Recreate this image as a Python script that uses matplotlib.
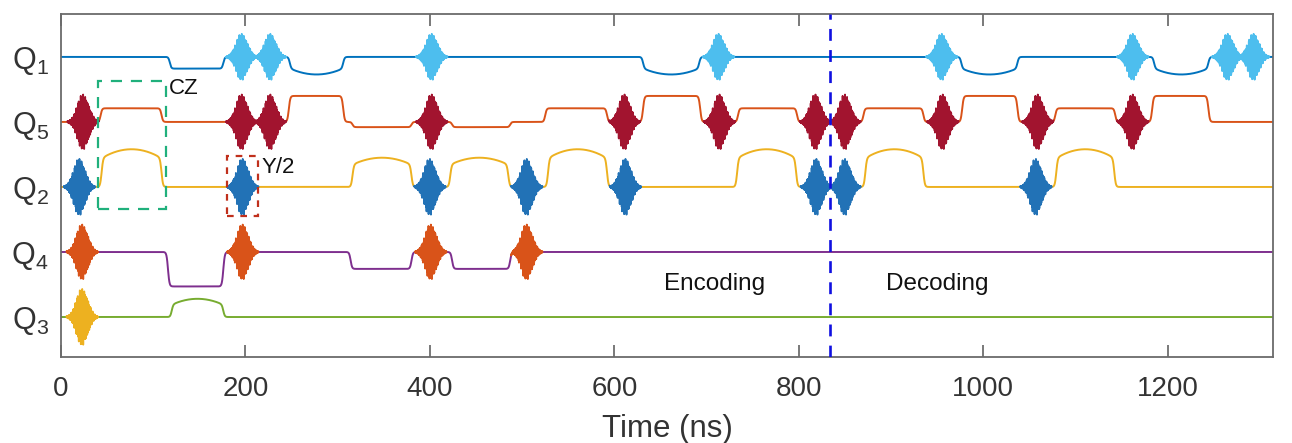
import numpy as np
import matplotlib
matplotlib.use("Agg")
import matplotlib.pyplot as plt
from matplotlib.patches import Rectangle

plt.rcParams['font.family'] = ['Liberation Sans', 'DejaVu Sans']
plt.rcParams['mathtext.fontset'] = 'custom'
plt.rcParams['mathtext.rm'] = 'Liberation Sans'
plt.rcParams['mathtext.default'] = 'regular'

# ---------------- data ----------------
qubit_labels = ['Q$_1$', 'Q$_5$', 'Q$_2$', 'Q$_4$', 'Q$_3$']
qubit_offsets = [5, 4, 3, 2, 1]
line_colors = ['#0072BD', '#D95319', '#EDB120', '#7E2F8E', '#77AC30']
pulse_colors = ['#4DBEEE', '#A2142F', '#2272B6', '#D95319', '#EDB120']
pulse_amps = [0.37, 0.44, 0.45, 0.44, 0.45]

# microwave pulse centres (ns)
q1_pulses = [196, 227, 402, 713, 955, 1162, 1265, 1293]
q5_pulses = [24, 196, 227, 402, 611, 714, 818, 850, 956, 1059, 1162]
q2_pulses = [20, 197, 400, 505, 612, 819, 850, 1057]
q4_pulses = [23, 197, 401, 505]
q3_pulses = [23]

# flux pulses: (start ns, end ns, amplitude, curvature)
q1_flux = [(118, 176, -0.18, 0.0), (248, 306, -0.27, 0.35), (631, 692, -0.27, 0.35),
           (976, 1037, -0.27, 0.35), (1185, 1244, -0.27, 0.35)]
q5_flux = [(43, 109, 0.21, 0.0), (247, 306, 0.40, 0.0), (316, 380, -0.08, 0.0),
           (424, 487, -0.08, 0.0), (525, 592, 0.21, 0.0), (631, 693, 0.40, 0.0),
           (734, 798, 0.21, 0.0), (870, 935, 0.21, 0.0), (977, 1037, 0.40, 0.0),
           (1078, 1143, 0.21, 0.0), (1183, 1244, 0.40, 0.0)]
q2_flux = [(44, 109, 0.58, 0.24), (316, 380, 0.45, 0.24), (422, 485, 0.45, 0.24),
           (528, 592, 0.58, 0.24), (733, 797, 0.58, 0.24), (872, 935, 0.58, 0.24),
           (1079, 1142, 0.58, 0.24)]
q4_flux = [(116, 176, -0.53, 0.0), (314, 380, -0.26, 0.0), (424, 487, -0.26, 0.0)]
q3_flux = [(120, 176, 0.28, 0.33)]

all_pulses = [q1_pulses, q5_pulses, q2_pulses, q4_pulses, q3_pulses]
all_flux = [q1_flux, q5_flux, q2_flux, q4_flux, q3_flux]

x_ticks = [0, 200, 400, 600, 800, 1000, 1200]
t_end = 1314
boundary_t = 834

# ---------------- waveform helpers ----------------
t = np.arange(0, t_end + 0.25, 0.25)


def flux_wave(tt, segs):
    y = np.zeros_like(tt)
    w = 1.6
    for s, e, a, c in segs:
        edge = 0.5 * (np.tanh((tt - s) / w) - np.tanh((tt - e) / w))
        u = np.clip((tt - 0.5 * (s + e)) / (0.5 * (e - s)), -1, 1)
        y += a * edge * (1 - c * u ** 2)
    return y


fig = plt.figure(figsize=(12.92, 4.43), dpi=100)
ax = fig.add_axes([61 / 1292, 86 / 443, (1273 - 61) / 1292, (357 - 14) / 443])

for off, lc, pc, amp, pulses, segs in zip(qubit_offsets, line_colors, pulse_colors,
                                          pulse_amps, all_pulses, all_flux):
    base = off + flux_wave(t, segs)
    ax.plot(t, base, color=lc, lw=1.4, solid_capstyle='butt', zorder=2)
    for tc in pulses:
        tp = np.arange(tc - 17, tc + 17, 0.1)
        env = amp * np.exp(-(tp - tc) ** 2 / (2 * 6.2 ** 2))
        carrier = (0.82 * np.cos(2 * np.pi * 2.3 * (tp - tc))
                   + 0.18 * np.cos(2 * np.pi * 0.43 * (tp - tc) + 0.7))
        yy = off + flux_wave(tp, segs) + env * carrier
        ax.plot(tp, yy, color=pc, lw=1.3, zorder=3)

# boundary between encoding and decoding
ax.axvline(boundary_t, color='#1010E0', lw=1.9, ls=(0, (4.5, 3.5)), zorder=4)

# gate annotation boxes
ax.add_patch(Rectangle((40, 2.66), 74, 1.97, fill=False, ec='#20B07C', lw=1.6,
                       ls=(0, (5, 4)), zorder=5))
ax.add_patch(Rectangle((180, 2.55), 34, 0.93, fill=False, ec='#C0301C', lw=1.6,
                       ls=(0, (3, 3)), zorder=5))
ax.text(117, 4.51, 'CZ', fontsize=16, ha='left', va='center', color='#111111')
ax.text(217, 3.30, 'Y/2', fontsize=16, ha='left', va='center', color='#111111')
ax.text(709, 1.51, 'Encoding', fontsize=17.5, ha='center', va='center', color='#111111')
ax.text(950, 1.51, 'Decoding', fontsize=17.5, ha='center', va='center', color='#111111')

ax.set_xlim(0, t_end)
ax.set_ylim(0.385, 5.66)
ax.set_xticks(x_ticks)
ax.set_yticks(qubit_offsets)
ax.set_yticklabels(qubit_labels)
ax.tick_params(axis='x', direction='in', length=8.5, width=1.1, top=True,
               labelsize=20, labelcolor='#333333', color='#555555', pad=14)
ax.tick_params(axis='y', length=0, labelsize=22, labelcolor='#333333', pad=9)
for sp in ax.spines.values():
    sp.set_color('#6b6b6b')
    sp.set_linewidth(1.3)
ax.set_xlabel('Time (ns)', fontsize=22.5, color='#333333', labelpad=8)

fig.savefig('out.png', dpi=100)
